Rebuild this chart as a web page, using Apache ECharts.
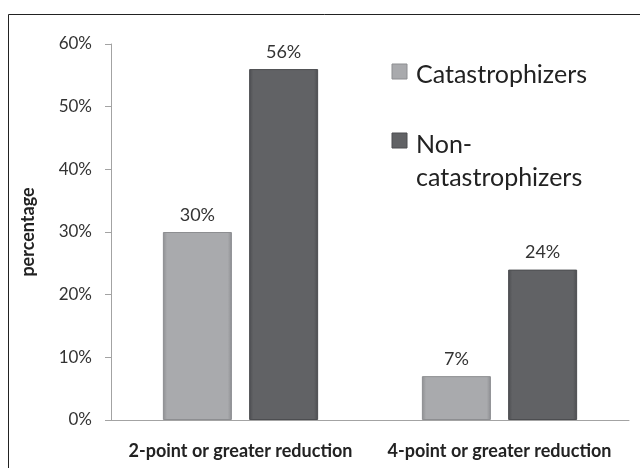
<!DOCTYPE html>
<html>
<head>
<meta charset="utf-8">
<script src="https://cdn.jsdelivr.net/npm/echarts@6/dist/echarts.min.js"></script>
<style>
  html, body { margin: 0; padding: 0; background: #fff; }
  #chart { width: 640px; height: 468px; }
</style>
</head>
<body>
<div id="chart"></div>
<script>
// data
var categories = ['2-point or greater reduction', '4-point or greater reduction'];
var seriesNames = ['Catastrophizers', 'Non-catastrophizers'];
var catastrophizers = [30, 7];
var nonCatastrophizers = [56, 24];
var yTicks = [0, 10, 20, 30, 40, 50, 60];

var lightCol = '#a9aaad', darkCol = '#616265';

var myChart = echarts.init(document.getElementById('chart'));

function barStyle(base, edge) {
  return {
    color: {
      type: 'linear', x: 0, y: 0, x2: 1, y2: 0,
      colorStops: [
        { offset: 0, color: edge },
        { offset: 0.06, color: base },
        { offset: 0.94, color: base },
        { offset: 1, color: edge }
      ]
    },
    borderColor: edge,
    borderWidth: 1
  };
}

var labelStyle = {
  show: true,
  position: 'top',
  distance: 8,
  fontFamily: 'Lato',
  fontSize: 18,
  color: '#333',
  formatter: '{c}%'
};

var option = {
  animation: false,
  grid: { left: 111, right: 11, top: 44, bottom: 48 },
  xAxis: {
    type: 'category',
    data: categories,
    axisLine: { lineStyle: { color: '#a3a3a3', width: 1 } },
    axisTick: { show: false },
    axisLabel: {
      interval: 0,
      hideOverlap: false,
      margin: 22,
      fontFamily: 'Lato',
      fontWeight: 'bold',
      fontSize: 18,
      color: '#222'
    }
  },
  yAxis: {
    type: 'value',
    min: yTicks[0],
    max: yTicks[yTicks.length - 1],
    interval: 10,
    name: 'percentage',
    nameLocation: 'middle',
    nameGap: 74,
    nameRotate: 90,
    nameTextStyle: { fontFamily: 'Lato', fontWeight: 'bold', fontSize: 18, color: '#222' },
    axisLine: { show: true, lineStyle: { color: '#a3a3a3', width: 1 } },
    axisTick: { show: true, length: 6, lineStyle: { color: '#a3a3a3' } },
    splitLine: { show: false },
    axisLabel: {
      margin: 19,
      fontFamily: 'Lato',
      fontSize: 17,
      color: '#333',
      formatter: '{value}%'
    }
  },
  series: [
    {
      name: seriesNames[0],
      type: 'bar',
      data: catastrophizers,
      barWidth: 69,
      barGap: '25%',
      itemStyle: barStyle(lightCol, '#8d8e91'),
      label: labelStyle
    },
    {
      name: seriesNames[1],
      type: 'bar',
      data: nonCatastrophizers,
      barWidth: 69,
      barGap: '25%',
      itemStyle: barStyle(darkCol, '#4c4d50'),
      label: labelStyle
    }
  ],
  graphic: [
    // outer frame
    { type: 'rect', shape: { x: 8.5, y: 14.5, width: 660, height: 480 },
      style: { fill: null, stroke: '#222', lineWidth: 1 }, silent: true },
    // legend
    { type: 'rect', shape: { x: 392, y: 64, width: 15, height: 15 },
      style: { fill: lightCol, stroke: '#8d8e91', lineWidth: 1 } },
    { type: 'text', x: 416, y: 75,
      style: { text: seriesNames[0], fontFamily: 'Lato', fontSize: 25, fill: '#222', verticalAlign: 'middle' } },
    { type: 'rect', shape: { x: 392, y: 133, width: 15, height: 15 },
      style: { fill: darkCol, stroke: '#4c4d50', lineWidth: 1 } },
    { type: 'text', x: 416, y: 145,
      style: { text: 'Non-', fontFamily: 'Lato', fontSize: 25, fill: '#222', verticalAlign: 'middle' } },
    { type: 'text', x: 416, y: 178,
      style: { text: 'catastrophizers', fontFamily: 'Lato', fontSize: 25, fill: '#222', verticalAlign: 'middle' } }
  ]
};

myChart.setOption(option);
</script>
</body>
</html>
